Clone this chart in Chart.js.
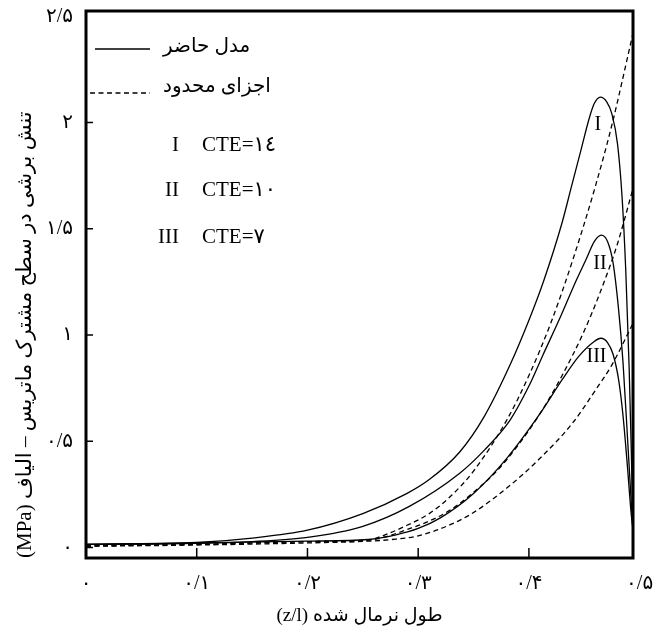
<!DOCTYPE html>
<html>
<head>
<meta charset="utf-8">
<script src="https://cdn.jsdelivr.net/npm/chart.js@4.4.1/dist/chart.umd.min.js"></script>
<style>
  html, body { margin: 0; padding: 0; background: #fff; }
  #wrap { width: 667px; height: 633px; position: relative; }
</style>
</head>
<body>
<div id="wrap"><canvas id="chartShear"></canvas></div>
<script>
// tick values
const xTicks = [0, 0.1, 0.2, 0.3, 0.4, 0.5];
const yTicks = [0, 0.5, 1, 1.5, 2, 2.5];

// present model (solid)
const xSolidI = [0, 0.1, 0.15, 0.2, 0.25, 0.29, 0.31, 0.3375, 0.36, 0.383, 0.4, 0.413, 0.43, 0.438, 0.446, 0.455, 0.459, 0.4645, 0.47, 0.475, 0.48, 0.484, 0.4875, 0.4905, 0.4925, 0.494];
const ySolidI = [0.015, 0.024, 0.045, 0.082, 0.16, 0.255, 0.32, 0.45, 0.62, 0.86, 1.07, 1.25, 1.53, 1.69, 1.85, 2.03, 2.09, 2.12, 2.1, 2.04, 1.9, 1.66, 1.3, 0.85, 0.45, 0.08];

const xSolidII = [0, 0.1, 0.15, 0.2, 0.25, 0.2924, 0.3375, 0.36, 0.383, 0.4, 0.413, 0.428, 0.443, 0.452, 0.459, 0.4654, 0.471, 0.476, 0.481, 0.485, 0.489, 0.492, 0.494];
const ySolidII = [0.015, 0.02, 0.028, 0.048, 0.1, 0.195, 0.35, 0.46, 0.6, 0.76, 0.91, 1.08, 1.26, 1.36, 1.44, 1.47, 1.44, 1.34, 1.12, 0.87, 0.52, 0.25, 0.08];

const xSolidIII = [0, 0.1, 0.2, 0.255, 0.28, 0.3, 0.32, 0.35, 0.38, 0.41, 0.43, 0.445, 0.459, 0.465, 0.471, 0.476, 0.481, 0.485, 0.489, 0.492, 0.494];
const ySolidIII = [0.015, 0.022, 0.03, 0.038, 0.06, 0.09, 0.14, 0.255, 0.42, 0.63, 0.79, 0.9, 0.97, 0.985, 0.965, 0.91, 0.79, 0.62, 0.38, 0.18, 0.08];

// finite elements (dashed)
const xFemI = [0, 0.1, 0.2, 0.255, 0.27, 0.29, 0.31, 0.33, 0.35, 0.38, 0.4, 0.42, 0.44, 0.46, 0.475, 0.494];
const yFemI = [0.008, 0.015, 0.028, 0.036, 0.06, 0.105, 0.16, 0.245, 0.36, 0.6, 0.81, 1.06, 1.36, 1.7, 1.99, 2.42];

const xFemII = [0, 0.1, 0.2, 0.255, 0.27, 0.29, 0.31, 0.33, 0.35, 0.37, 0.39, 0.41, 0.43, 0.45, 0.465, 0.48, 0.494];
const yFemII = [0.008, 0.015, 0.028, 0.035, 0.05, 0.085, 0.125, 0.18, 0.26, 0.355, 0.48, 0.63, 0.81, 1.02, 1.21, 1.43, 1.69];

const xFemIII = [0, 0.1, 0.2, 0.255, 0.28, 0.3, 0.33, 0.35, 0.38, 0.41, 0.44, 0.46, 0.475, 0.494];
const yFemIII = [0.006, 0.012, 0.022, 0.03, 0.04, 0.055, 0.11, 0.165, 0.28, 0.42, 0.59, 0.74, 0.86, 1.055];

// curve tags
const curveTags = ['I', 'II', 'III'];
const tagX = [0.4623, 0.4641, 0.461];
const tagY = [1.99, 1.335, 0.897];

const legendCte = ['CTE=١٤', 'CTE=١٠', 'CTE=٧'];
const legendSolid = 'مدل حاضر';
const legendDashed = 'اجزای محدود';
const xTitle = '(z/l) طول نرمال شده';
const yTitle = '(MPa) تنش برشی در سطح مشترک ماتریس – الیاف';

const serif = '"Liberation Serif", "DejaVu Sans", serif';
const faDigits = '۰۱۲۳۴۵۶۷۸۹';
function toFa(v) {
    return String(+v.toFixed(2)).replace('.', '/').replace(/\d/g, d => faDigits[d]);
}
const pts = (xs, ys) => xs.map((x, i) => ({x: x, y: ys[i]}));

function curve(xs, ys, dashed) {
    return {
        data: pts(xs, ys),
        borderColor: '#000',
        borderWidth: 1.3,
        borderDash: dashed ? [5, 3.5] : [],
        pointRadius: 0,
        fill: false,
        cubicInterpolationMode: 'monotone'
    };
}

// frame, inner tick marks, legend and curve tags
const paperPlugin = {
    id: 'paper',
    afterDraw(chart) {
        const {ctx, chartArea: a, scales: {x, y}} = chart;
        ctx.save();
        ctx.strokeStyle = '#000';
        ctx.fillStyle = '#000';

        ctx.lineWidth = 1.5;
        ctx.beginPath();
        [0.1, 0.2, 0.3, 0.4].forEach(v => {
            const px = x.getPixelForValue(v);
            ctx.moveTo(px, a.bottom);
            ctx.lineTo(px, a.bottom - 10);
        });
        [0, 0.5, 1, 1.5, 2].forEach(v => {
            const py = y.getPixelForValue(v);
            ctx.moveTo(a.left, py);
            ctx.lineTo(a.left + 7, py);
        });
        ctx.stroke();

        ctx.lineWidth = 3;
        ctx.strokeRect(a.left, a.top, a.right - a.left, a.bottom - a.top);

        ctx.font = '20px ' + serif;
        ctx.textBaseline = 'middle';
        ctx.textAlign = 'center';
        curveTags.forEach((t, i) => ctx.fillText(t, x.getPixelForValue(tagX[i]), y.getPixelForValue(tagY[i])));

        // legend
        const lx = a.left, ly = a.top;
        ctx.lineWidth = 1.3;
        ctx.beginPath();
        ctx.moveTo(lx + 9, ly + 38);
        ctx.lineTo(lx + 64, ly + 38);
        ctx.stroke();
        ctx.setLineDash([5, 3.5]);
        ctx.beginPath();
        ctx.moveTo(lx + 4, ly + 82);
        ctx.lineTo(lx + 64, ly + 82);
        ctx.stroke();
        ctx.setLineDash([]);

        ctx.textAlign = 'left';
        ctx.font = '20px ' + serif;
        ctx.fillText(legendSolid, lx + 77, ly + 36);
        ctx.fillText(legendDashed, lx + 77, ly + 76);

        ctx.font = '21px ' + serif;
        [134, 179, 226].forEach((dy, i) => {
            ctx.textAlign = 'right';
            ctx.fillText(curveTags[i], lx + 93, ly + dy);
            ctx.textAlign = 'left';
            ctx.fillText(legendCte[i], lx + 116, ly + dy);
        });
        ctx.restore();
    }
};

new Chart(document.getElementById('chartShear'), {
    type: 'line',
    data: {
        datasets: [
            curve(xSolidI, ySolidI, false),
            curve(xSolidII, ySolidII, false),
            curve(xSolidIII, ySolidIII, false),
            curve(xFemI, yFemI, true),
            curve(xFemII, yFemII, true),
            curve(xFemIII, yFemIII, true)
        ]
    },
    options: {
        responsive: true,
        maintainAspectRatio: false,
        animation: false,
        events: [],
        layout: {padding: {top: 11, right: 34, bottom: 0, left: 0}},
        plugins: {
            legend: {display: false},
            tooltip: {enabled: false}
        },
        scales: {
            x: {
                type: 'linear',
                min: 0,
                max: 0.494,
                afterBuildTicks: s => { s.ticks = xTicks.map(v => ({value: v})); },
                afterFit: s => { s.height = 75; s.paddingLeft = 0; s.paddingRight = 0; },
                grid: {display: false, drawTicks: false},
                border: {display: false},
                ticks: {
                    autoSkip: false,
                    maxRotation: 0,
                    padding: 14,
                    color: '#000',
                    font: {family: serif, size: 20},
                    callback: v => toFa(v)
                },
                title: {
                    display: true,
                    text: xTitle,
                    color: '#000',
                    font: {family: serif, size: 19},
                    padding: {top: 0, bottom: 6}
                }
            },
            y: {
                type: 'linear',
                min: -0.049,
                max: 2.525,
                afterBuildTicks: s => { s.ticks = yTicks.map(v => ({value: v})); },
                afterFit: s => { s.width = 86; s.paddingTop = 0; s.paddingBottom = 0; },
                grid: {display: false, drawTicks: false},
                border: {display: false},
                ticks: {
                    padding: 13,
                    color: '#000',
                    font: {family: serif, size: 20},
                    callback: v => toFa(v)
                },
                title: {
                    display: true,
                    text: yTitle,
                    align: 'start',
                    color: '#000',
                    font: {family: serif, size: 21},
                    padding: {top: 13, bottom: 0}
                }
            }
        }
    },
    plugins: [paperPlugin]
});
</script>
</body>
</html>
